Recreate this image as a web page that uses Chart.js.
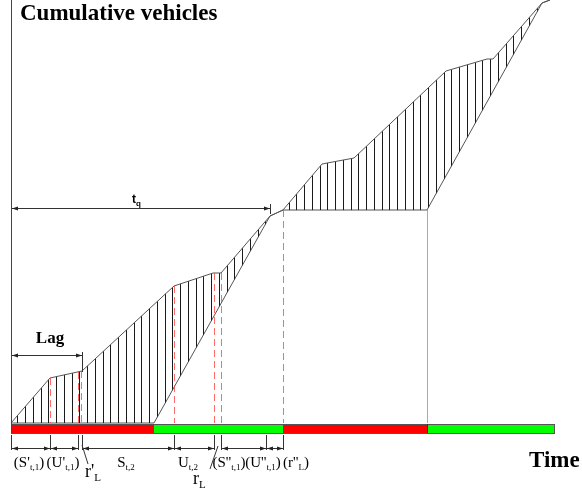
<!DOCTYPE html>
<html>
<head>
<meta charset="utf-8">
<script src="https://cdn.jsdelivr.net/npm/chart.js@4"></script>
<style>
html,body{margin:0;padding:0;background:#fff}
#wrap{width:582px;height:490px}
</style>
</head>
<body>
<div id="wrap"><canvas id="chart" width="582" height="490"></canvas></div>
<script>
// cumulative arrivals (upper curve) and departures (lower curve)
const arrivalTime = [0, 39, 71, 163, 202, 210, 259, 272, 311, 343, 435, 476, 482, 531, 539];
const arrivalVeh  = [0, 45, 52, 137, 150, 150, 207, 213, 259, 265, 352, 364, 364, 420, 423];
const departTime  = [0, 143, 259, 272, 416, 531, 539];
const departVeh   = [0, 0, 207, 213, 213, 420, 423];

// signal phases
const phaseStart = [0, 143, 272, 416];
const phaseEnd   = [143, 272, 416, 543];
const phaseColor = ["red", "green", "red", "green"];

// red dashed markers (time, top value)
const markTime = [39, 67, 70, 163, 203, 210, 272];
const markTop  = [45, 51, 52, 137, 150, 150, 213];

// dimension ticks under the signal bar
const dimTicks = [0, 39, 67, 71, 163, 203, 210, 255, 272];
const dimSpans = [[0, 39], [39, 67], [71, 163], [163, 203], [210, 255], [255, 272]];
const dimLabels = [
  ["(S'", "t,1", ")"], ["(U'", "t,1", ")"], ["S", "t,2", ""], ["U", "t,2", ""],
  ["(S''", "t,1", ")"], ["(U''", "t,1", ")"], ["(r''", "L", ")"]
];
const lagEnd = 71, tqEnd = 259;

const SERIF = "'Liberation Serif', 'DejaVu Serif', serif";

function hatch(){
  const p = document.createElement("canvas");
  p.width = 31; p.height = 4;
  const g = p.getContext("2d");
  g.fillStyle = "#1a1a1a";
  [2, 10, 17, 25].forEach(x => g.fillRect(x, 0, 1, 4));
  return g.createPattern(p, "repeat");
}

function arrowHead(ctx, x, y, dir){
  ctx.beginPath();
  ctx.moveTo(x, y);
  ctx.lineTo(x + dir*6, y - 2);
  ctx.lineTo(x + dir*6, y + 2);
  ctx.closePath();
  ctx.fill();
}

function dimArrow(ctx, x1, x2, y){
  ctx.beginPath();
  ctx.moveTo(x1, y); ctx.lineTo(x2, y);
  ctx.stroke();
  arrowHead(ctx, x1, y, 1);
  arrowHead(ctx, x2, y, -1);
}

function subText(ctx, x, y, parts, size, align){
  const main = `${size}px ${SERIF}`, small = `${Math.round(size*0.62)}px ${SERIF}`;
  ctx.font = main; const w0 = ctx.measureText(parts[0]).width;
  ctx.font = small; const w1 = ctx.measureText(parts[1]).width;
  ctx.font = main; const w2 = ctx.measureText(parts[2] || "").width;
  let sx = align === "center" ? x - (w0 + w1 + w2)/2 : x;
  ctx.textAlign = "left"; ctx.textBaseline = "alphabetic";
  ctx.font = main; ctx.fillText(parts[0], sx, y);
  ctx.font = small; ctx.fillText(parts[1], sx + w0, y + size*0.22);
  ctx.font = main; if(parts[2]) ctx.fillText(parts[2], sx + w0 + w1, y);
}

const overlay = {
  id: "overlay",
  afterDatasetsDraw(chart){
    const ctx = chart.ctx;
    const X = t => chart.scales.x.getPixelForValue(t);
    const Y = v => chart.scales.y.getPixelForValue(v);
    ctx.save();

    // red dashed markers
    ctx.strokeStyle = "rgba(255,70,70,0.8)";
    ctx.lineWidth = 1;
    ctx.setLineDash([7, 4]);
    markTime.forEach((t, i) => {
      const x = Math.round(X(t)) + 0.5;
      ctx.beginPath(); ctx.moveTo(x, Y(markTop[i])); ctx.lineTo(x, Y(0)); ctx.stroke();
    });
    ctx.setLineDash([]);

    // start of second green
    ctx.strokeStyle = "#aaa";
    ctx.beginPath(); ctx.moveTo(X(416) + 0.5, Y(213)); ctx.lineTo(X(416) + 0.5, Y(0)); ctx.stroke();

    // signal bar
    phaseStart.forEach((s, i) => {
      ctx.fillStyle = phaseColor[i] === "red" ? "#ff0000" : "#00ff00";
      ctx.fillRect(X(s), Y(-1), X(phaseEnd[i]) - X(s), Y(-10) - Y(-1));
    });
    ctx.strokeStyle = "#555";
    ctx.strokeRect(X(0) + 0.5, Y(-1) + 0.5, X(543) - X(0), Y(-10) - Y(-1));
    ctx.strokeStyle = "#333";
    ctx.beginPath(); ctx.moveTo(X(416) + 0.5, Y(-1)); ctx.lineTo(X(416) + 0.5, Y(-10)); ctx.stroke();

    // vertical axis
    ctx.strokeStyle = "#444";
    ctx.beginPath(); ctx.moveTo(X(0) + 0.5, Y(-10)); ctx.lineTo(X(0) + 0.5, 0); ctx.stroke();

    // dimension lines under the bar
    ctx.strokeStyle = "#333"; ctx.fillStyle = "#222";
    dimTicks.forEach(t => {
      const x = Math.round(X(t)) + 0.5;
      ctx.beginPath(); ctx.moveTo(x, Y(-12)); ctx.lineTo(x, Y(-27)); ctx.stroke();
    });
    dimSpans.forEach(s => dimArrow(ctx, X(s[0]) + 1, X(s[1]), Y(-25) + 0.5));

    // leader lines
    ctx.beginPath(); ctx.moveTo(X(71), Y(-22)); ctx.lineTo(X(77), Y(-41)); ctx.stroke();
    ctx.beginPath(); ctx.moveTo(X(207), Y(-23)); ctx.lineTo(X(199), Y(-46)); ctx.stroke();

    // Lag and tq arrows
    dimArrow(ctx, X(0) + 1, X(lagEnd), Y(68) + 0.5);
    ctx.beginPath(); ctx.moveTo(X(lagEnd) + 0.5, Y(71)); ctx.lineTo(X(lagEnd) + 0.5, Y(51)); ctx.stroke();
    dimArrow(ctx, X(0) + 1, X(tqEnd), Y(215) + 0.5);
    ctx.beginPath(); ctx.moveTo(X(tqEnd) + 0.5, Y(219)); ctx.lineTo(X(tqEnd) + 0.5, Y(209)); ctx.stroke();

    // texts
    ctx.fillStyle = "#000";
    ctx.textBaseline = "alphabetic";
    ctx.textAlign = "left";
    ctx.font = `bold 23px ${SERIF}`;
    ctx.fillText("Cumulative vehicles", 20, 20);
    ctx.fillText("Time", 529, 467);
    ctx.textAlign = "center";
    ctx.font = `bold 17px ${SERIF}`;
    ctx.fillText("Lag", 50, 343);
    ctx.font = "bold 12px 'Liberation Sans', Arial, sans-serif";
    ctx.textAlign = "left";
    ctx.fillText("t", 132, 203);
    ctx.font = "bold 8px 'Liberation Sans', Arial, sans-serif";
    ctx.fillText("q", 136, 206);

    const labelX = [29, 63, 126, 188, 229, 263, 296];
    dimLabels.forEach((p, i) => subText(ctx, labelX[i], 467, p, 15, "center"));
    subText(ctx, 85, 477, ["r'", "L", ""], 18, "left");
    subText(ctx, 193, 484, ["r", "L", ""], 18, "left");

    ctx.restore();
  }
};

const ctx = document.getElementById("chart").getContext("2d");
new Chart(ctx, {
  type: "line",
  data: {
    datasets: [
      {
        label: "Arrivals",
        data: arrivalTime.map((t, i) => ({x: t, y: arrivalVeh[i]})),
        borderColor: "#555", borderWidth: 1, pointRadius: 0, tension: 0,
        fill: {target: 1}, backgroundColor: hatch()
      },
      {
        label: "Departures",
        data: departTime.map((t, i) => ({x: t, y: departVeh[i]})),
        borderColor: "#555", borderWidth: 1, pointRadius: 0, tension: 0,
        fill: false
      }
    ]
  },
  options: {
    responsive: false,
    animation: false,
    layout: {padding: 0},
    plugins: {legend: {display: false}, tooltip: {enabled: false}},
    scales: {
      x: {type: "linear", min: -11, max: 571, display: false},
      y: {type: "linear", min: -67, max: 423, display: false}
    }
  },
  plugins: [overlay]
});
</script>
</body>
</html>
